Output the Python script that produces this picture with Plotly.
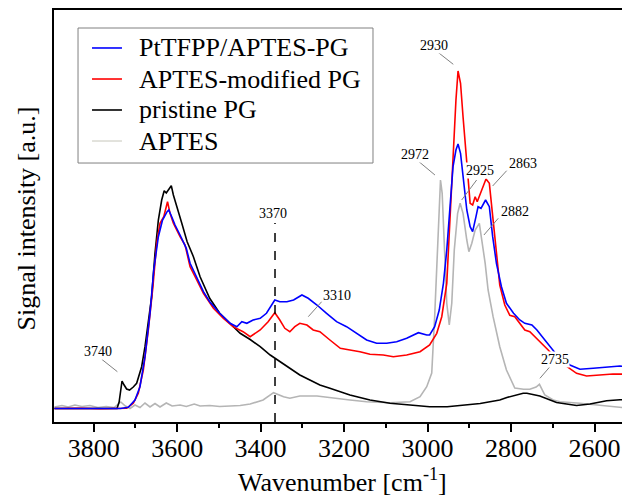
import plotly.graph_objects as go

# ---------------- data ----------------
wn_black = [3894, 3784, 3744, 3739, 3732, 3727, 3721, 3714, 3705, 3697, 3685, 3677, 3669, 3661,
            3653, 3645, 3637, 3631, 3626, 3621, 3614, 3609, 3600, 3589, 3576, 3561, 3545, 3522,
            3498, 3473, 3449, 3425, 3401, 3377, 3354, 3330, 3306, 3282, 3258, 3234, 3209, 3186,
            3138, 3090, 3042, 2995, 2953, 2910, 2874, 2827, 2810, 2771, 2762, 2731, 2691, 2643,
            2611, 2571, 2539, 2515]
y_black = [13.5, 13.5, 13.5, 20, 41, 37, 33, 32, 35, 38.7, 55.3, 75.3, 99, 125.3,
           169, 202, 222, 231.3, 229, 232, 236.3, 227, 215.3, 199, 180.3, 165.3, 145.3, 123.7,
           108.7, 98.7, 88.7, 82.5, 75.3, 67, 60.3, 53.7, 47, 42, 37, 33.7, 30.3, 27,
           22, 18.7, 17, 15.3, 15.3, 17, 18.5, 22, 24.5, 28.7, 28.7, 26, 19.5, 16.5,
           18, 21.3, 22.3, 22]

wn_aptes = [3894, 3876, 3861, 3845, 3828, 3809, 3790, 3770, 3751, 3735, 3724, 3713, 3701, 3689,
            3677, 3665, 3653, 3641, 3626, 3612, 3593, 3578, 3559, 3545, 3522, 3498, 3473, 3449,
            3425, 3394, 3369, 3345, 3330, 3306, 3265, 3226, 3186, 3146, 3090, 3042, 3018, 3002,
            2990, 2983, 2977, 2972, 2969, 2965, 2960, 2954, 2948, 2942, 2936, 2928, 2922, 2915,
            2906, 2901, 2894, 2886, 2876, 2871, 2862, 2855, 2843, 2827, 2811, 2791, 2770, 2755,
            2740, 2732, 2719, 2699, 2683, 2635, 2571, 2515]
y_aptes = [15, 16.5, 15, 17, 15.5, 16.5, 14.5, 15.5, 14.5, 20, 16, 13.5, 17, 14.5,
           19, 15, 18.5, 15, 19, 16, 17, 15.5, 18, 16, 16.5, 15.5, 16, 16.5,
           18, 22, 29.3, 25.3, 23.7, 26, 26, 23.7, 22, 20.3, 19.3, 20.3, 25.3, 35.3,
           49, 105.3, 172, 228.7, 242, 228.7, 172, 118.7, 97, 118.7, 172, 208.7, 218.7, 208.7,
           182, 170.3, 178.7, 192, 198.7, 185.3, 158.7, 132, 105.3, 75.3, 52, 34, 32.7, 32.7,
           35, 37.7, 27, 22, 20.3, 18.7, 16, 13.7]

wn_red = [3894, 3832, 3784, 3736, 3721, 3705, 3693, 3681, 3669, 3658, 3649, 3641, 3632, 3623,
          3617, 3609, 3593, 3581, 3569, 3553, 3537, 3513, 3489, 3466, 3442, 3425, 3401, 3382,
          3366, 3354, 3342, 3330, 3318, 3306, 3289, 3274, 3258, 3234, 3209, 3186, 3162, 3138,
          3106, 3082, 3050, 3018, 2995, 2978, 2966, 2954, 2946, 2939, 2932, 2927, 2921, 2915,
          2908, 2903, 2898, 2892, 2886, 2881, 2871, 2860, 2852, 2844, 2835, 2827, 2815, 2803,
          2791, 2779, 2767, 2755, 2743, 2726, 2711, 2692, 2665, 2643, 2619, 2587, 2556, 2515]
y_red = [13.5, 13.8, 13.2, 13.5, 13.7, 18.7, 28.7, 52, 92, 135.3, 178.7, 198.7, 205.3, 220.3,
         208.7, 198.7, 185.3, 177, 155.3, 142, 128.7, 113.7, 103.7, 95.3, 90.3, 85.3, 92, 100.3,
         109.3, 102, 93.7, 90.3, 95.3, 98.7, 97, 92, 90.3, 82, 73.7, 72, 70.3, 67.7,
         67, 65.3, 67, 70.3, 77, 88.7, 105.3, 138.7, 205.3, 272, 322, 351, 338.7, 305.3,
         272, 243.7, 218.7, 217, 225.3, 220.3, 232, 243, 238.7, 205.3, 165.3, 137, 117, 106.7,
         105.3, 98.7, 92, 90.3, 85.3, 78.7, 72, 63, 54.7, 48.7, 46, 47, 48, 47.7]

wn_blue = [3894, 3784, 3736, 3717, 3701, 3689, 3677, 3665, 3656, 3645, 3635, 3624, 3620, 3613,
           3605, 3593, 3578, 3569, 3553, 3537, 3522, 3498, 3473, 3457, 3445, 3433, 3418, 3401,
           3386, 3366, 3354, 3337, 3321, 3301, 3286, 3265, 3242, 3218, 3194, 3170, 3146, 3122,
           3098, 3074, 3050, 3022, 3002, 2995, 2983, 2972, 2962, 2954, 2946, 2939, 2932, 2927,
           2921, 2915, 2906, 2898, 2892, 2884, 2879, 2872, 2861, 2852, 2844, 2835, 2823, 2811,
           2794, 2779, 2767, 2750, 2738, 2719, 2703, 2687, 2659, 2635, 2603, 2571, 2539, 2515]
y_blue = [13.5, 13.5, 13.5, 14.7, 22, 35.3, 65.3, 108.7, 152, 185.3, 202, 210.3, 212, 205.3,
          197, 187, 173.7, 158.7, 145.3, 130.3, 120.3, 108.7, 98.7, 95.3, 100.3, 98.7, 102, 103.7,
          108.7, 122, 120.3, 120.3, 122, 127, 123.7, 117, 108.7, 100.3, 95.3, 88.7, 82, 78.7,
          78.7, 80.3, 83.7, 89.3, 87, 87, 95.3, 112, 138.7, 172, 218.7, 255.3, 272, 278,
          268.7, 245.3, 212, 195.3, 190.3, 205.3, 215.3, 213.7, 222, 215.3, 185.3, 158.7, 135.3, 118.7,
          108.7, 102, 98.7, 97, 92, 82, 73.7, 65.3, 57, 52.7, 53.7, 54.7, 56, 54.7]

series_names = ["PtTFPP/APTES-PG", "APTES-modified PG", "pristine PG", "APTES"]
series_colors = ["#0000ff", "#ff0000", "#000000", "#b5b5b5"]
legend_sample_colors = ["#0000ff", "#ff0000", "#000000", "#dcdcd4"]

# peak labels: text, label position, leader line start/end
labels = ["2930", "2972", "2925", "2863", "2882", "3310", "3740", "2735"]
label_x = [2984.7, 3030.2, 2874.5, 2772.2, 2790.7, 3217.7, 3788.8, 2694.8]
label_y = [377, 268, 252, 258.7, 211, 127, 70.3, 62.7]
lead_x0 = [2976.8, 3020.6, 2882.4, 2810.5, 2830.6, 3253.7, 3780.6, 2706.8]
lead_y0 = [370.3, 260.3, 242, 251.3, 203.7, 120.3, 62.7, 55.3]
lead_x1 = [2938.4, 2982.3, 2918.3, 2844.1, 2865.0, 3285.8, 3743.2, 2730.8]
lead_y1 = [357.7, 247, 222, 236, 187, 105.3, 50.3, 43.7]

marker_wn = 3365.5
marker_label = "3370"

FONT = "Liberation Serif, Times New Roman, serif"

fig = go.Figure()
traces = [(wn_aptes, y_aptes, 3), (wn_black, y_black, 2), (wn_red, y_red, 1), (wn_blue, y_blue, 0)]
for xs, ys, i in traces:
    fig.add_trace(go.Scatter(x=xs, y=ys, mode="lines", name=series_names[i],
                             line=dict(color=series_colors[i], width=1.6), showlegend=False))

shapes = []
for x0, y0, x1, y1 in zip(lead_x0, lead_y0, lead_x1, lead_y1):
    shapes.append(dict(type="line", x0=x0, y0=y0, x1=x1, y1=y1, xref="x", yref="y",
                       line=dict(color="#808080", width=1)))
shapes.append(dict(type="line", x0=marker_wn, x1=marker_wn, y0=0, y1=199, xref="x", yref="y",
                   line=dict(color="#000000", width=1.5, dash="dash")))

annotations = []
for t, x, y in zip(labels, label_x, label_y):
    annotations.append(dict(x=x, y=y, xref="x", yref="y", text=t, showarrow=False,
                            font=dict(family=FONT, size=14, color="#000000"),
                            bgcolor="#ffffff", borderpad=0))
annotations.append(dict(x=3369.6, y=208.7, xref="x", yref="y", text=marker_label, showarrow=False,
                        font=dict(family=FONT, size=14, color="#000000")))

# legend (box, line samples, names) in paper coordinates
shapes.append(dict(type="rect", xref="paper", yref="paper", x0=0.0417, x1=0.5538, y0=0.6286, y1=0.9563,
                   line=dict(color="#808080", width=1), fillcolor="#ffffff", layer="above"))
row_y = [0.9078, 0.8325, 0.7573, 0.6820]
for name, col, ry in zip(series_names, legend_sample_colors, row_y):
    shapes.append(dict(type="line", xref="paper", yref="paper", x0=0.066, x1=0.118, y0=ry, y1=ry,
                       line=dict(color=col, width=1.6), layer="above"))
    annotations.append(dict(x=0.1445, y=ry, xref="paper", yref="paper", text=name, showarrow=False,
                            xanchor="left", yanchor="middle",
                            font=dict(family=FONT, size=26, color="#000000")))

# axis titles
annotations.append(dict(x=-0.047, y=0.494, xref="paper", yref="paper", text="Signal intensity [a.u.]",
                        textangle=-90, showarrow=False, xanchor="center", yanchor="middle",
                        font=dict(family=FONT, size=26, color="#000000")))
annotations.append(dict(x=0.5, y=-0.1408, xref="paper", yref="paper", text="Wavenumber [cm<sup>-1</sup>]",
                        showarrow=False, xanchor="center", yanchor="middle",
                        font=dict(family=FONT, size=26, color="#000000")))

# the page adds an 8 px body margin, so the figure is sized to the visible area
fig.update_layout(
    width=622, height=491,
    margin=dict(l=46, r=0, t=2, b=77),
    paper_bgcolor="#ffffff", plot_bgcolor="#ffffff",
    font=dict(family=FONT, size=26, color="#000000"),
    showlegend=False,
    shapes=shapes, annotations=annotations,
    xaxis=dict(range=[3895, 2515], showgrid=False, zeroline=False, automargin=False,
               showline=True, linecolor="#000000", linewidth=2, mirror=True,
               ticks="outside", ticklen=8, tickwidth=1.5, tickcolor="#000000",
               tick0=2600, dtick=200, ticklabelstandoff=-6,
               minor=dict(dtick=100, ticks="outside", ticklen=4, tickwidth=1.5, tickcolor="#000000"),
               tickfont=dict(family=FONT, size=26)),
    yaxis=dict(range=[0, 412], showgrid=False, zeroline=False, showticklabels=False, automargin=False,
               ticks="", showline=True, linecolor="#000000", linewidth=2, mirror=False),
)

fig.write_html("out.html")
